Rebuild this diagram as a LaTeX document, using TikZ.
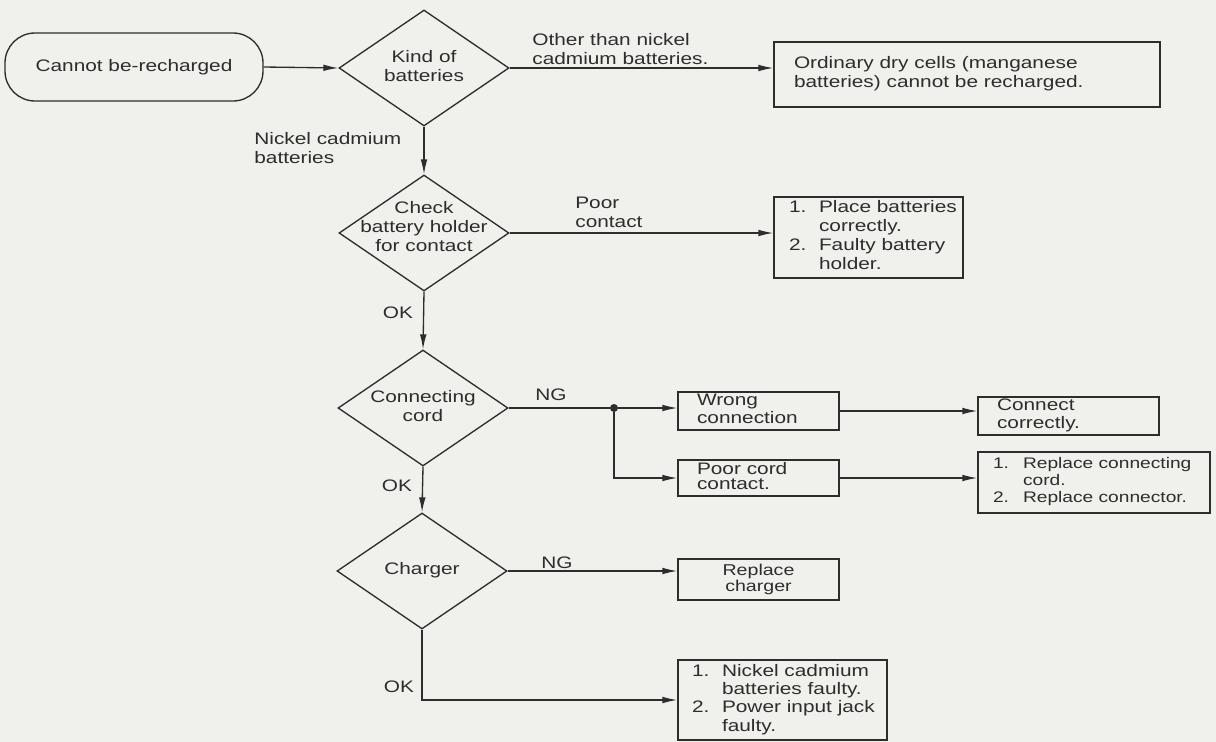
\documentclass[tikz,border=0pt]{standalone}
\usepackage{fontspec}
\setmainfont{Liberation Sans}[FakeStretch=1.25]
\usetikzlibrary{shapes.geometric,arrows.meta}
\newcommand\dtext[2][-2.5pt]{\makebox[0pt]{\raisebox{#1}[0pt][0pt]{\begin{tabular}{@{}c@{}}#2\end{tabular}}}}
\newcommand\ltext[2]{\makebox[#1][l]{\begin{tabular}{@{}l@{}}#2\end{tabular}}}
\newcommand\numi[2]{\makebox[18pt][l]{#1}#2}
\newcommand\numc{\hspace*{18pt}}
\definecolor{paper}{RGB}{240,240,237}
\definecolor{ink}{RGB}{45,45,45}
\begin{document}
\begin{tikzpicture}[x=0.6pt,y=-0.6pt,
  every node/.style={font=\fontsize{10}{11.4}\selectfont, inner sep=0pt, text=ink},
  dia/.style={draw=ink, line width=0.8pt, diamond, minimum width=102pt, minimum height=69.6pt},
  startbox/.style={draw=ink, line width=0.8pt, rounded corners=18pt, minimum width=154.8pt, minimum height=40.8pt},
  box/.style={draw=ink, line width=0.8pt},
  lbl/.style={align=left, anchor=west},
  conn/.style={draw=ink, line width=0.8pt, -{Latex[length=9pt,width=4pt]}},
  plain/.style={draw=ink, line width=0.8pt}]
\fill[paper] (0,0) rectangle (1216,742);
\useasboundingbox (0,0) rectangle (1216,742);

% start
\node[startbox] (s) at (134,67) {Cannot be-recharged};

% diamonds
\node[dia] (d1) at (424,68) {\dtext{Kind of\\batteries}};
\node[dia] (d2) at (424,233) {\dtext[0pt]{Check\\battery holder\\for contact}};
\node[dia] (d3) at (423,408) {\dtext{Connecting\\cord}};
\node[dia] (d4) at (422,571) {\dtext{Charger}};

% boxes
\node[box, minimum width=231.6pt, minimum height=39pt] (b1) at (967,74.5)
  {\ltext{207.6pt}{Ordinary dry cells (manganese\\batteries) cannot be recharged.}};
\node[box, minimum width=113.4pt, minimum height=48.6pt] (b2) at (868.5,237.5)
  {\ltext{95.4pt}{\numi{1.}{Place batteries}\\\numc correctly.\\\numi{2.}{Faulty battery}\\\numc holder.}};
\node[box, minimum width=96.6pt, minimum height=22.8pt, font=\fontsize{10}{10.5}\selectfont] (w) at (758.5,411)
  {\ltext{73.8pt}{Wrong\\connection}};
\node[box, minimum width=96.6pt, minimum height=21.6pt, font=\fontsize{10}{8.6}\selectfont] (pc) at (758.5,478)
  {\ltext{73.8pt}{Poor cord\\contact.}};
\node[box, minimum width=108.6pt, minimum height=22.8pt, font=\fontsize{10}{11}\selectfont] (cc) at (1068.5,416)
  {\ltext{85.8pt}{Connect\\correctly.}};
\node[box, minimum width=139.2pt, minimum height=36.6pt, font=\fontsize{9.2}{10.2}\selectfont] (rc) at (1094,482.5)
  {\ltext{121.2pt}{\numi{1.}{Replace connecting}\\\numc cord.\\\numi{2.}{Replace connector.}}};
\node[box, minimum width=96.6pt, minimum height=24.6pt, align=center, font=\fontsize{9.4}{9.8}\selectfont] (rch) at (758.5,579.5)
  {Replace\\charger};
\node[box, minimum width=125.4pt, minimum height=48pt, font=\fontsize{10}{11}\selectfont] (nb) at (782.5,700)
  {\ltext{108.6pt}{\numi{1.}{Nickel cadmium}\\\numc batteries faulty.\\\numi{2.}{Power input jack}\\\numc faulty.}};

% labels
\node[lbl] (l1) at (532,49.5) {Other than nickel\\cadmium batteries.};
\node[lbl] (l2) at (254,148.5) {Nickel cadmium\\batteries};
\node[lbl] (l3) at (575,212.5) {Poor\\contact};
\node (ok1) at (398,313) {OK};
\node (ng1) at (551,395) {NG};
\node (ok2) at (397,486) {OK};
\node (ng2) at (557,563) {NG};
\node (ok3) at (399,687) {OK};

% junction
\node[circle, fill=ink, minimum size=4.8pt] (j) at (614,408) {};

% connectors
\draw[conn] (s.east) -- (d1.west);
\draw[conn] (d1.east) -- (d1.east -| b1.west);
\draw[conn] (d1.south) -- (d2.north);
\draw[conn] (d2.east) -- (d2.east -| b2.west);
\draw[conn] (d2.south) -- (d3.north);
\draw[plain] (d3.east) -- (j);
\draw[conn] (j) -- (j -| w.west);
\draw[conn] (j.south) |- (pc.west);
\draw[conn] (w.east) -- (w.east -| cc.west);
\draw[conn] (pc.east) -- (pc.east -| rc.west);
\draw[conn] (d3.south) -- (d4.north);
\draw[conn] (d4.east) -- (d4.east -| rch.west);
\draw[conn] (d4.south) |- (nb.west);
\end{tikzpicture}
\end{document}
